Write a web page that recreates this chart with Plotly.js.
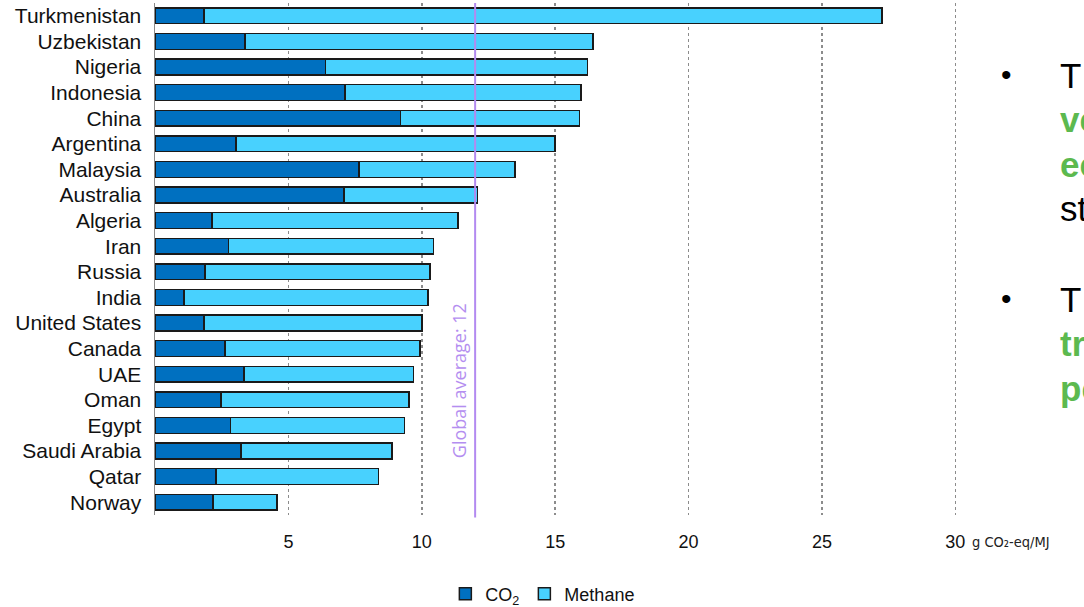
<!DOCTYPE html>
<html>
<head>
<meta charset="utf-8">
<script src="https://cdn.plot.ly/plotly-3.0.1.min.js"></script>
<style>
html,body{margin:0;padding:0;background:#fff;}
#chart{width:1084px;height:607px;}
</style>
</head>
<body>
<div id="chart"></div>
<script>
const countries = ["Turkmenistan","Uzbekistan","Nigeria","Indonesia","China","Argentina","Malaysia","Australia","Algeria","Iran","Russia","India","United States","Canada","UAE","Oman","Egypt","Saudi Arabia","Qatar","Norway"];
const co2 =     [1.83, 3.37, 6.39, 7.13, 9.21, 3.03, 7.64, 7.08, 2.13, 2.75, 1.88, 1.09, 1.83, 2.62, 3.33, 2.48, 2.83, 3.23, 2.28, 2.18];
const methane = [25.42,13.04, 9.83, 8.83, 6.70,11.96, 5.86, 5.01, 9.23, 7.69, 8.43, 9.14, 8.17, 7.31, 6.36, 7.05, 6.52, 5.66, 6.09, 2.39];
const tickVals = [5, 10, 15, 20, 25, 30];
const tickText = ["5", "10", "15", "20", "25", "30"];
const globalAverage = 12;
const unitLabel = "g CO₂-eq/MJ";
const bulletLines1 = [["T", "#000", false], ["ve", "#5cb94f", true], ["ec", "#5cb94f", true], ["st", "#000", false]];
const bulletLines2 = [["T", "#000", false], ["tr", "#5cb94f", true], ["pe", "#5cb94f", true]];

const L = 155, T = 3, W = 803, H = 512;
const XMAX = 30.1;

const lineStyle = {color: "#1a1a1a", width: 1.5};
const traces = [
  {type: "bar", orientation: "h", name: "CO<sub>2</sub>", y: countries, x: co2,
   marker: {color: "#0070c0", line: lineStyle}, hoverinfo: "skip"},
  {type: "bar", orientation: "h", name: "Methane", y: countries, x: methane,
   marker: {color: "#48d1fe", line: lineStyle}, hoverinfo: "skip"}
];

const annotations = [
  {x: globalAverage, y: (T + H - 381) / H, xref: "x", yref: "paper", xanchor: "center", yanchor: "middle",
   text: "Global average: " + globalAverage, textangle: -90, showarrow: false,
   xshift: -16, font: {family: "Open Sans, sans-serif", size: 18, color: "#b48ef0"}},
  {x: 30, y: 0, xref: "x", yref: "paper", xanchor: "left", yanchor: "middle",
   text: unitLabel, showarrow: false, xshift: 15, yshift: -27,
   font: {family: "DejaVu Sans Condensed, DejaVu Sans, sans-serif", size: 14.5, color: "#222"}}
];

function px2paper(xp, yp) { return [(xp - L) / W, (T + H - yp) / H]; }

function addBullet(lines, yBullet, yFirst) {
  const d = px2paper(1006, yBullet);
  annotations.push({x: d[0], y: d[1], xref: "paper", yref: "paper", text: "•", showarrow: false,
    xanchor: "center", yanchor: "middle", font: {family: "Liberation Sans, Arial", size: 30, color: "#000"}});
  lines.forEach((l, i) => {
    const p = px2paper(1058, yFirst + i * 44.5);
    annotations.push({x: p[0], y: p[1], xref: "paper", yref: "paper",
      text: l[2] ? "<b>" + l[0] + "</b>" : l[0],
      showarrow: false, xanchor: "left", yanchor: "middle",
      font: {family: "Liberation Sans, Arial", size: 35, color: l[1]}});
  });
}
addBullet(bulletLines1, 74, 75);
addBullet(bulletLines2, 298, 299);

const layout = {
  width: 1084, height: 607,
  margin: {l: L, r: 1084 - L - W, t: T, b: 607 - T - H, autoexpand: false},
  paper_bgcolor: "#fff", plot_bgcolor: "#fff",
  barmode: "stack", bargap: 0.38,
  showlegend: true,
  legend: {orientation: "h", x: 0.483, xanchor: "center", y: (T + H - 594) / H, yanchor: "middle",
    font: {family: "Liberation Sans Narrow, Liberation Sans, Arial", size: 18, color: "#111"},
    itemwidth: 30, traceorder: "normal"},
  xaxis: {range: [0, XMAX], tickvals: tickVals, ticktext: tickText, showgrid: true, automargin: false,
    gridcolor: "#8c8c8c", griddash: "dot", gridwidth: 1.5, zeroline: false, showline: false,
    ticks: "", ticklabelstandoff: 14,
    tickfont: {family: "Liberation Sans Narrow, Liberation Sans, Arial", size: 18, color: "#111"}},
  yaxis: {autorange: "reversed", showline: true, linecolor: "#8a8a8a", linewidth: 1.5, automargin: false,
    tickmode: "array", tickvals: countries, ticktext: countries,
    showgrid: false, zeroline: false, ticks: "", ticklabelstandoff: 8,
    tickfont: {family: "Liberation Sans, Arial", size: 21, color: "#111"}},
  shapes: [{type: "line", xref: "x", yref: "paper", x0: globalAverage, x1: globalAverage,
    y0: -0.005, y1: 1, line: {color: "#b38af0", width: 2}}],
  annotations: annotations
};

Plotly.newPlot("chart", traces, layout, {displayModeBar: false, staticPlot: true});
</script>
</body>
</html>
